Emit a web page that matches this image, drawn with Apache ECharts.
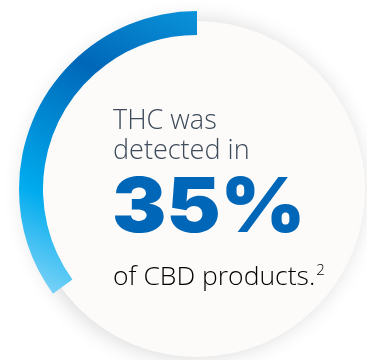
<!DOCTYPE html>
<html>
<head>
<meta charset="utf-8">
<script src="https://cdn.jsdelivr.net/npm/echarts@6/dist/echarts.min.js"></script>
<style>
html,body{margin:0;padding:0;background:#ffffff;}
#chart{width:367px;height:360px;}
</style>
</head>
<body>
<div id="chart"></div>
<script>
// Data
var categories = ['THC detected', 'Not detected'];
var values = [35, 65];
var headline = ['THC was', 'detected in'];
var bigValue = '35%';
var footer = 'of CBD products.';
var footnote = '2';

var chart = echarts.init(document.getElementById('chart'), null, {renderer: 'canvas'});

var ringGradient = {
  type: 'linear', global: true,
  x: 197, y: 12, x2: 45, y2: 300,
  colorStops: [
    {offset: 0, color: '#0a93da'},
    {offset: 0.3, color: '#0067b8'},
    {offset: 0.72, color: '#00abee'},
    {offset: 1, color: '#86d6f8'}
  ]
};

var option = {
  backgroundColor: '#ffffff',
  animation: false,
  series: [
    {
      type: 'pie',
      silent: true,
      center: [197, 189],
      radius: [0, 168],
      label: {show: false},
      labelLine: {show: false},
      data: [{value: 1, name: 'bg', itemStyle: {
        color: '#fcfbf9',
        shadowBlur: 22,
        shadowColor: 'rgba(0,0,0,0.16)',
        shadowOffsetX: -4,
        shadowOffsetY: 0
      }}]
    },
    {
      type: 'pie',
      silent: true,
      center: [197, 189],
      radius: [154, 178],
      startAngle: 90,
      clockwise: false,
      label: {show: false},
      labelLine: {show: false},
      data: [
        {value: values[0], name: categories[0], itemStyle: {color: ringGradient}},
        {value: values[1], name: categories[1], itemStyle: {color: 'rgba(0,0,0,0)'}}
      ]
    }
  ],
  graphic: {
    elements: [
      {type: 'text', z: 100, left: 113, top: 106, style: {
        text: headline[0] + '\n' + headline[1],
        fontFamily: 'Open Sans', fontWeight: 300, fontSize: 27,
        fill: '#3e4b5b', lineHeight: 30
      }},
      {type: 'text', z: 100, x: 112, y: 171, scaleX: 1.07, style: {
        text: bigValue, x: 0, y: 0,
        fontFamily: 'Inter', fontWeight: 900, fontSize: 76,
        fill: '#0066b7', textVerticalAlign: 'top'
      }},
      {type: 'text', z: 100, left: 113, top: 263, style: {
        text: '{a|' + footer + '}{s|' + footnote + '}',
        rich: {
          a: {fontFamily: 'Open Sans', fontWeight: 300, fontSize: 26.5, color: '#3e4b5b'},
          s: {fontFamily: 'Open Sans', fontWeight: 300, fontSize: 15, color: '#3e4b5b', verticalAlign: 'top', padding: [0, 0, 14, 1]}
        }
      }}
    ]
  }
};
chart.setOption(option);
</script>
</body>
</html>
